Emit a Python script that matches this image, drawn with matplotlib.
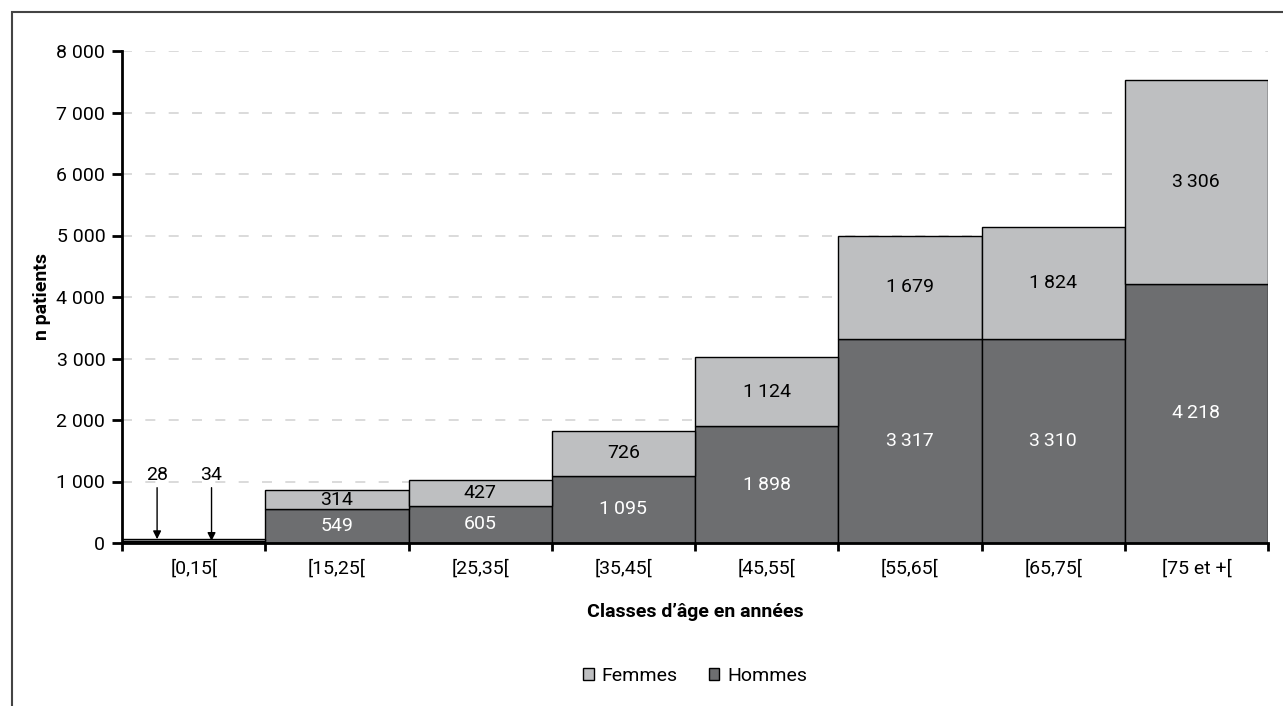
import matplotlib
matplotlib.use("Agg")
import matplotlib.pyplot as plt
from matplotlib.patches import Rectangle, Patch
from matplotlib import font_manager
import numpy as np

# Data
categories = ["[0,15[", "[15,25[", "[25,35[", "[35,45[", "[45,55[", "[55,65[", "[65,75[", "[75 et +["]
hommes = [34, 549, 605, 1095, 1898, 3317, 3310, 4218]
femmes = [28, 314, 427, 726, 1124, 1679, 1824, 3306]
yticks = [0, 1000, 2000, 3000, 4000, 5000, 6000, 7000, 8000]

names = {f.name for f in font_manager.fontManager.ttflist}
main_font = next((n for n in ["Roboto", "Liberation Sans"] if n in names), "DejaVu Sans")
plt.rcParams["font.family"] = [main_font, "DejaVu Sans"]

FS = 14
col_f = "#bebfc1"
col_h = "#6d6e70"


def fmt(v, sep="\u2009"):
    return f"{v:,}".replace(",", sep)


fig = plt.figure(figsize=(12.83, 7.06), dpi=100)
ax = fig.add_axes([122 / 1283, (706 - 543) / 706, (1268 - 122) / 1283, (543 - 51) / 706])

x = np.arange(len(categories))
ax.bar(x, hommes, width=1.0, color=col_h, edgecolor="black", linewidth=1.0, zorder=3, label="Hommes")
ax.bar(x, femmes, width=1.0, bottom=hommes, color=col_f, edgecolor="black", linewidth=1.0, zorder=3, label="Femmes")

# Segment labels (all but the first, tiny class)
for i in range(1, len(categories)):
    ax.text(x[i], hommes[i] / 2, fmt(hommes[i]), ha="center", va="center", color="white", fontsize=FS, zorder=4)
    ax.text(x[i], hommes[i] + femmes[i] / 2, fmt(femmes[i]), ha="center", va="center", color="black", fontsize=FS, zorder=4)

# First class: values shown with arrows
ax.annotate(str(femmes[0]), xy=(-0.255, hommes[0] + femmes[0]), xytext=(-0.255, 1260),
            ha="center", va="top", fontsize=FS, zorder=4,
            arrowprops=dict(arrowstyle="-|>", color="black", lw=1.0, mutation_scale=12, shrinkA=1, shrinkB=0))
ax.annotate(str(hommes[0]), xy=(0.125, hommes[0]), xytext=(0.125, 1260),
            ha="center", va="top", fontsize=FS, zorder=4,
            arrowprops=dict(arrowstyle="-|>", color="black", lw=1.0, mutation_scale=12, shrinkA=1, shrinkB=0))

ax.set_xlim(-0.5, len(categories) - 0.5)
ax.set_ylim(0, 8000)
ax.set_yticks(yticks)
ax.set_yticklabels([fmt(v, " ") for v in yticks], fontsize=FS)
ax.set_xticks(x)
ax.set_xticklabels(categories, fontsize=FS)
ax.set_xticks(np.arange(-0.5, len(categories), 1.0), minor=True)
ax.tick_params(axis="x", which="major", length=0, pad=12)
ax.tick_params(axis="x", which="minor", length=6, width=2, direction="out")
ax.tick_params(axis="y", length=7, width=2, direction="out", pad=5)

for side in ["top", "right"]:
    ax.spines[side].set_visible(False)
for side in ["left", "bottom"]:
    ax.spines[side].set_linewidth(2)
    ax.spines[side].set_zorder(5)

ax.yaxis.grid(True, color="#d4d4d4", linestyle=(0, (6, 8)), linewidth=1.2, zorder=0)
ax.set_axisbelow(True)

ax.set_ylabel("n patients", fontsize=FS, fontweight="bold", labelpad=4)
ax.set_xlabel("Classes d\u2019âge en années", fontsize=FS, fontweight="bold", labelpad=18)

handles = [Patch(facecolor=col_f, edgecolor="black", linewidth=1.0, label="Femmes"),
           Patch(facecolor=col_h, edgecolor="black", linewidth=1.0, label="Hommes")]
fig.legend(handles=handles, loc="center", bbox_to_anchor=(695 / 1283, 1 - 676 / 706), ncol=2,
           frameon=False, fontsize=FS, handlelength=0.55, handleheight=0.55, columnspacing=1.6,
           handletextpad=0.4)

# Outer frame around the figure
fig.patches.append(Rectangle((12 / 1283, -0.05), 1.1, 1 - 12 / 706 + 0.05, transform=fig.transFigure,
                             fill=False, edgecolor="#444444", linewidth=1.5, zorder=0))

fig.savefig("out.png", dpi=100)
